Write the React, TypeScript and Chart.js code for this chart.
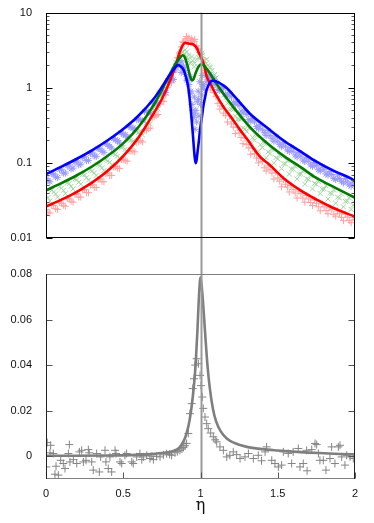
import React, { useEffect, useRef } from 'react';
import { Chart, registerables } from 'chart.js';

Chart.register(...registerables);

// ---------- axes / ticks ----------
const etaTicks = [0, 0.5, 1, 1.5, 2];
const etaTickLabels = ['0', '0.5', '1', '1.5', '2'];
const logTicks = [0.01, 0.1, 1, 10];
const logTickLabels = ['0.01', '0.1', '1', '10'];
const logMinorTicks = [
  0.02, 0.03, 0.04, 0.05, 0.06, 0.07, 0.08, 0.09,
  0.2, 0.3, 0.4, 0.5, 0.6, 0.7, 0.8, 0.9,
  2, 3, 4, 5, 6, 7, 8, 9,
];
const linTicks = [0, 0.02, 0.04, 0.06, 0.08];
const linTickLabels = ['0', '0.02', '0.04', '0.06', '0.08'];
const resonanceEta = 1;
const xTitle = 'η';

// ---------- top panel: fitted curves ----------
const blueLineEta = [0, 0.1, 0.2, 0.3, 0.4, 0.5, 0.6, 0.7, 0.75, 0.8, 0.83, 0.855, 0.875, 0.89, 0.905, 0.92, 0.932, 0.943, 0.952, 0.96, 0.968, 0.975, 0.98, 0.99, 0.997, 1.01, 1.018, 1.03, 1.04, 1.055, 1.075, 1.1, 1.14, 1.17, 1.21, 1.26, 1.32, 1.43, 1.54, 1.65, 1.75, 1.87, 1.97, 2];
const blueLineVal = [0.071, 0.089, 0.1135, 0.148, 0.2, 0.282, 0.427, 0.724, 1.02, 1.48, 1.8, 2.0, 1.9, 1.74, 1.4, 1.04, 0.65, 0.37, 0.22, 0.135, 0.099, 0.11, 0.135, 0.2, 0.275, 0.42, 0.56, 0.75, 0.94, 1.12, 1.24, 1.22, 1.1, 0.99, 0.81, 0.62, 0.45, 0.295, 0.197, 0.141, 0.104, 0.077, 0.0625, 0.057];

const greenLineEta = [0, 0.1, 0.2, 0.3, 0.4, 0.5, 0.6, 0.7, 0.75, 0.8, 0.83, 0.86, 0.885, 0.9, 0.915, 0.93, 0.945, 0.955, 0.97, 0.99, 1.008, 1.03, 1.06, 1.09, 1.13, 1.21, 1.32, 1.43, 1.54, 1.65, 1.75, 1.87, 2];
const greenLineVal = [0.043, 0.0537, 0.0684, 0.0902, 0.1245, 0.182, 0.302, 0.603, 0.933, 1.48, 1.95, 2.4, 2.7, 2.5, 2.0, 1.5, 1.25, 1.3, 1.6, 1.95, 2.05, 1.9, 1.57, 1.25, 0.94, 0.56, 0.3, 0.184, 0.123, 0.087, 0.063, 0.0468, 0.0343];

const redLineEta = [0, 0.1, 0.2, 0.3, 0.4, 0.5, 0.6, 0.7, 0.75, 0.8, 0.84, 0.87, 0.9, 0.93, 0.955, 0.975, 0.99, 1.005, 1.02, 1.04, 1.07, 1.1, 1.148, 1.2, 1.256, 1.3, 1.385, 1.45, 1.536, 1.65, 1.752, 1.85, 2];
const redLineVal = [0.0263, 0.0324, 0.0412, 0.055, 0.0785, 0.123, 0.219, 0.468, 0.708, 1.2, 2.0, 3.16, 3.95, 3.85, 3.75, 3.4, 2.9, 2.5, 2.1, 1.42, 1.07, 0.81, 0.56, 0.4, 0.275, 0.209, 0.121, 0.093, 0.063, 0.0427, 0.0324, 0.0257, 0.0192];

// ---------- top panel: measured points (two interleaved rows) ----------
const scatterEta = [0, 0.025, 0.05, 0.075, 0.1, 0.125, 0.15, 0.175, 0.2, 0.225, 0.25, 0.275, 0.3, 0.325, 0.35, 0.375, 0.4, 0.425, 0.45, 0.475, 0.5, 0.525, 0.55, 0.575, 0.6, 0.625, 0.65, 0.675, 0.7, 0.725, 0.75, 0.775, 0.8, 0.825, 0.85, 0.875, 0.9, 0.925, 0.95, 0.975, 1, 1.025, 1.05, 1.075, 1.1, 1.125, 1.15, 1.175, 1.2, 1.225, 1.25, 1.275, 1.3, 1.325, 1.35, 1.375, 1.4, 1.425, 1.45, 1.475, 1.5, 1.525, 1.55, 1.575, 1.6, 1.625, 1.65, 1.675, 1.7, 1.725, 1.75, 1.775, 1.8, 1.825, 1.85, 1.875, 1.9, 1.925, 1.95, 1.975, 2];
const blueScatterVal = [0.062, 0.056, 0.071, 0.064, 0.081, 0.073, 0.094, 0.085, 0.106, 0.096, 0.121, 0.108, 0.136, 0.122, 0.154, 0.138, 0.174, 0.157, 0.201, 0.184, 0.238, 0.222, 0.295, 0.281, 0.383, 0.363, 0.484, 0.451, 0.616, 0.614, 0.862, 0.866, 1.26, 1.29, 2.1, 1.6, 1.7, 1.1, 0.5, 0.35, 0.6, 0.95, 1.3, 1.15, 1.15, 0.92, 0.98, 0.78, 0.76, 0.6, 0.58, 0.46, 0.44, 0.36, 0.35, 0.285, 0.28, 0.232, 0.232, 0.194, 0.195, 0.164, 0.167, 0.142, 0.143, 0.12, 0.123, 0.104, 0.106, 0.09, 0.092, 0.078, 0.081, 0.069, 0.07, 0.06, 0.062, 0.054, 0.056, 0.049, 0.05];
const greenScatterVal = [0.037, 0.031, 0.041, 0.035, 0.046, 0.039, 0.053, 0.045, 0.06, 0.052, 0.069, 0.059, 0.078, 0.068, 0.092, 0.079, 0.107, 0.094, 0.129, 0.116, 0.162, 0.143, 0.2, 0.18, 0.255, 0.235, 0.34, 0.33, 0.5, 0.52, 0.77, 0.85, 1.35, 1.7, 2.3, 2.9, 3.2, 2.7, 2.3, 2.4, 2.6, 2.3, 2.0, 1.7, 1.35, 1.0, 0.8, 0.62, 0.52, 0.42, 0.38, 0.29, 0.26, 0.19, 0.2, 0.143, 0.16, 0.117, 0.133, 0.099, 0.113, 0.084, 0.097, 0.071, 0.082, 0.061, 0.071, 0.052, 0.06, 0.045, 0.052, 0.039, 0.045, 0.033, 0.039, 0.029, 0.034, 0.026, 0.031, 0.024, 0.029];
const redScatterVal = [0.024, 0.0215, 0.027, 0.024, 0.029, 0.0265, 0.033, 0.03, 0.039, 0.035, 0.044, 0.04, 0.051, 0.047, 0.061, 0.056, 0.073, 0.068, 0.089, 0.084, 0.11, 0.105, 0.143, 0.14, 0.19, 0.19, 0.27, 0.29, 0.41, 0.44, 0.66, 0.8, 1.2, 1.6, 2.5, 3.5, 4.3, 4.6, 4.3, 3.6, 2.9, 2.0, 1.4, 1.0, 0.76, 0.52, 0.46, 0.35, 0.33, 0.245, 0.25, 0.18, 0.175, 0.13, 0.133, 0.1, 0.104, 0.078, 0.081, 0.061, 0.063, 0.048, 0.052, 0.041, 0.044, 0.034, 0.039, 0.03, 0.033, 0.027, 0.029, 0.023, 0.026, 0.021, 0.024, 0.0195, 0.021, 0.017, 0.019, 0.016, 0.0177];

const scatterEta2 = [0.0125, 0.0375, 0.0625, 0.0875, 0.1125, 0.1375, 0.1625, 0.1875, 0.2125, 0.2375, 0.2625, 0.2875, 0.3125, 0.3375, 0.3625, 0.3875, 0.4125, 0.4375, 0.4625, 0.4875, 0.5125, 0.5375, 0.5625, 0.5875, 0.6125, 0.6375, 0.6625, 0.6875, 0.7125, 0.7375, 0.7625, 0.7875, 0.8125, 0.8375, 0.8625, 0.8875, 0.9125, 0.9375, 0.9625, 0.9875, 1.0125, 1.0375, 1.0625, 1.0875, 1.1125, 1.1375, 1.1625, 1.1875, 1.2125, 1.2375, 1.2625, 1.2875, 1.3125, 1.3375, 1.3625, 1.3875, 1.4125, 1.4375, 1.4625, 1.4875, 1.5125, 1.5375, 1.5625, 1.5875, 1.6125, 1.6375, 1.6625, 1.6875, 1.7125, 1.7375, 1.7625, 1.7875, 1.8125, 1.8375, 1.8625, 1.8875, 1.9125, 1.9375, 1.9625, 1.9875];
const blueScatterVal2 = [0.058, 0.072, 0.065, 0.081, 0.073, 0.091, 0.083, 0.102, 0.094, 0.117, 0.107, 0.133, 0.123, 0.154, 0.143, 0.179, 0.166, 0.211, 0.198, 0.251, 0.237, 0.307, 0.292, 0.377, 0.366, 0.485, 0.475, 0.63, 0.63, 0.87, 0.9, 1.25, 1.28, 1.73, 2.2, 1.85, 1.25, 0.9, 0.45, 0.7, 1.05, 1.2, 1.35, 1.1, 0.95, 1.02, 0.82, 0.85, 0.64, 0.65, 0.49, 0.5, 0.376, 0.39, 0.304, 0.32, 0.252, 0.268, 0.21, 0.223, 0.176, 0.186, 0.148, 0.16, 0.127, 0.137, 0.109, 0.118, 0.094, 0.101, 0.081, 0.088, 0.071, 0.077, 0.062, 0.069, 0.057, 0.062, 0.051, 0.055];
const greenScatterVal2 = [0.0345, 0.043, 0.0385, 0.048, 0.043, 0.054, 0.0488, 0.061, 0.0552, 0.07, 0.0634, 0.08, 0.0733, 0.094, 0.086, 0.11, 0.102, 0.132, 0.123, 0.16, 0.151, 0.203, 0.195, 0.261, 0.257, 0.36, 0.363, 0.51, 0.525, 0.77, 0.82, 1.21, 1.3, 2.2, 2.7, 3.0, 2.6, 2.2, 2.1, 2.5, 2.7, 2.1, 1.85, 1.45, 1.15, 0.9, 0.73, 0.51, 0.51, 0.376, 0.385, 0.283, 0.29, 0.218, 0.229, 0.174, 0.183, 0.14, 0.151, 0.117, 0.125, 0.097, 0.106, 0.083, 0.09, 0.0707, 0.077, 0.0612, 0.0674, 0.0533, 0.0563, 0.0446, 0.0494, 0.0394, 0.0435, 0.0349, 0.0386, 0.0308, 0.0342, 0.0272];
const redScatterVal2 = [0.0221, 0.027, 0.0245, 0.03, 0.0273, 0.0336, 0.0309, 0.038, 0.035, 0.0436, 0.0404, 0.0503, 0.0471, 0.0597, 0.0563, 0.0714, 0.068, 0.0883, 0.0853, 0.1106, 0.108, 0.145, 0.144, 0.194, 0.197, 0.276, 0.288, 0.404, 0.425, 0.606, 0.66, 1.0, 1.16, 1.84, 2.9, 4.1, 4.5, 4.2, 4.4, 3.2, 2.5, 1.6, 0.94, 0.86, 0.62, 0.57, 0.43, 0.42, 0.3, 0.295, 0.217, 0.214, 0.158, 0.157, 0.116, 0.114, 0.086, 0.091, 0.073, 0.075, 0.057, 0.06, 0.0476, 0.05, 0.0396, 0.042, 0.034, 0.0368, 0.0297, 0.0321, 0.026, 0.0284, 0.0231, 0.0252, 0.0207, 0.0229, 0.0188, 0.0207, 0.017, 0.0187];

const blueScatterPeak = [[0.86, 2.3], [0.87, 1.95], [0.88, 2.2], [0.89, 1.9], [0.905, 1.5], [0.915, 1.3], [0.93, 1.4], [0.935, 0.85], [0.945, 0.6], [0.955, 0.4], [0.96, 0.75], [0.965, 0.28], [0.97, 0.5], [0.98, 0.65], [0.985, 0.9], [0.99, 0.42], [0.995, 1.2], [1.005, 0.8], [1.01, 1.45], [1.02, 1.1], [1.035, 1.45], [1.06, 1.5], [1.09, 1.3]];
const greenScatterPeak = [[0.84, 1.9], [0.86, 2.6], [0.88, 3.3], [0.895, 2.8], [0.91, 3.0], [0.92, 2.4], [0.935, 2.1], [0.945, 2.6], [0.96, 1.9], [0.985, 2.8], [1.01, 2.9], [1.04, 2.4], [1.06, 1.9], [1.09, 1.5]];
const redScatterPeak = [[0.87, 3.0], [0.89, 4.0], [0.91, 4.8], [0.92, 3.9], [0.94, 4.5], [0.96, 4.1], [0.985, 3.3], [1.01, 2.4], [1.035, 1.7]];

// ---------- bottom panel ----------
const grayLineEta = [0, 0.2, 0.4, 0.55, 0.65, 0.75, 0.82, 0.86, 0.89, 0.91, 0.93, 0.95, 0.965, 0.98, 0.99, 1, 1.01, 1.02, 1.03, 1.045, 1.06, 1.08, 1.1, 1.13, 1.17, 1.22, 1.3, 1.4, 1.5, 1.6, 1.7, 1.8, 1.9, 2];
const grayLineVal = [0.0002, 0.0002, 0.0003, 0.0005, 0.0008, 0.0014, 0.0022, 0.0035, 0.0065, 0.01, 0.016, 0.026, 0.037, 0.055, 0.07, 0.0785, 0.073, 0.064, 0.054, 0.04, 0.03, 0.021, 0.0155, 0.011, 0.0078, 0.0058, 0.0041, 0.0031, 0.0025, 0.002, 0.0016, 0.0013, 0.001, 0.0008];
const grayScatter = [
  [0.002, -0.0047], [0.008, 0.006], [0.03, 0.0048], [0.026, 0.0015], [0.047, 0.0012], [0.058, -0.0079], [0.065, -0.0044], [0.08, -0.0083],
  [0.095, -0.0018], [0.112, -0.0032], [0.123, -0.0054], [0.145, 0.0012], [0.151, 0.0051], [0.155, -0.0025], [0.177, -0.0015], [0.199, -0.0032],
  [0.216, 0.0019], [0.231, 0.0026], [0.242, -0.0025], [0.259, -0.0018], [0.274, 0.0029], [0.28, 0.0015], [0.296, -0.0025], [0.306, -0.0061],
  [0.328, 0.0012], [0.345, -0.0069], [0.354, -0.0003], [0.382, 0.0026], [0.388, -0.0025], [0.403, -0.0054], [0.414, -0.0003], [0.425, -0.0069],
  [0.447, 0.0026], [0.453, 0.0012], [0.479, -0.0025], [0.49, -0.0032], [0.511, 0.0004], [0.522, 0.0012], [0.555, -0.0025], [0.565, -0.0032],
  [0.587, -0.0003], [0.608, 0.0012], [0.62, -0.0015], [0.63, -0.0003], [0.652, 0.0004], [0.673, -0.001], [0.685, 0.0], [0.695, -0.0015],
  [0.716, 0.0], [0.738, -0.0003], [0.76, 0.0006], [0.781, 0.0011], [0.8, 0.0008], [0.813, 0.0004], [0.835, 0.0015], [0.85, 0.002],
  [0.867, 0.0026], [0.88, 0.0032], [0.889, 0.0038], [0.9, 0.0046], [0.91, 0.0056], [0.921, 0.01], [0.932, 0.0187], [0.943, 0.0231],
  [0.95, 0.0297], [0.958, 0.034], [0.966, 0.04], [0.975, 0.0428], [0.986, 0.0406], [0.997, 0.0355], [1.003, 0.031], [1.012, 0.026],
  [1.018, 0.021], [1.029, 0.0172], [1.04, 0.0143], [1.05, 0.0121], [1.066, 0.0102], [1.083, 0.0085], [1.095, 0.0072], [1.105, 0.0063],
  [1.126, 0.0041], [1.148, 0.0026], [1.17, -0.0003], [1.19, 0.0004], [1.212, 0.0019], [1.234, 0.0007], [1.256, -0.001], [1.288, -0.0003],
  [1.31, 0.0012], [1.342, -0.001], [1.374, 0.0004], [1.395, -0.002], [1.418, 0.0019], [1.428, 0.0041], [1.461, -0.0018], [1.482, -0.0032],
  [1.504, -0.0047], [1.525, -0.0039], [1.536, 0.0019], [1.568, 0.0012], [1.59, -0.0032], [1.6, 0.0019], [1.633, 0.0034], [1.644, -0.0047],
  [1.665, -0.0032], [1.687, 0.0026], [1.69, -0.0064], [1.72, 0.0029], [1.741, 0.0056], [1.752, 0.0051], [1.763, 0.0012], [1.773, -0.0018],
  [1.795, -0.0018], [1.812, -0.0061], [1.838, -0.001], [1.849, 0.0041], [1.87, -0.0032], [1.892, 0.0041], [1.903, 0.0048], [1.914, -0.0003],
  [1.935, -0.0039], [1.946, 0.0004], [1.968, -0.0003], [1.989, -0.001],
];

// ---------- helpers ----------
const zip = (xs: number[], ys: number[]) => xs.slice(0, Math.min(xs.length, ys.length)).map((x, i) => ({ x, y: ys[i] }));
const pairs = (ps: number[][]) => ps.map(([x, y]) => ({ x, y }));

const FONT = "'Liberation Sans', Arial, Helvetica, sans-serif";

function lineDs(points: any[], color: string, width = 2.5) {
  return {
    data: points, borderColor: color, borderWidth: width, pointRadius: 0, fill: false,
    cubicInterpolationMode: 'monotone', showLine: true,
  };
}
function markDs(points: any[], color: string, style: string, radius = 3.5) {
  return {
    data: points, showLine: false, borderColor: color, backgroundColor: 'transparent',
    pointStyle: style, pointRadius: radius, pointBorderColor: color, pointBorderWidth: 1,
    pointBackgroundColor: 'transparent',
  };
}

type PanelCfg = {
  frame: { top: string; right: string; bottom: string; left: string };
  yMajor: number[];
  yMinor: number[];
  xMajor: number[];
  tickColor: string;
  minorColor: string;
  lineFromCanvasTop: boolean;
};

function panelPlugin(cfg: PanelCfg) {
  return {
    id: 'panel',
    afterDatasetsDraw(chart: any) {
      const { ctx, chartArea: a, scales } = chart;
      const x = Math.round(scales.x.getPixelForValue(resonanceEta)) + 0.5;
      ctx.save();
      ctx.strokeStyle = '#9a9a9a';
      ctx.lineWidth = 2;
      ctx.beginPath();
      if (cfg.lineFromCanvasTop) {
        ctx.moveTo(x, 0);
        ctx.lineTo(x, a.bottom);
      } else {
        ctx.moveTo(x, a.top);
        ctx.lineTo(x, chart.height);
      }
      ctx.stroke();
      ctx.restore();
    },
    afterDraw(chart: any) {
      const { ctx, chartArea: a, scales } = chart;
      const L = Math.round(a.left) + 0.5, R = Math.round(a.right) - 0.5;
      const T = Math.round(a.top) + 0.5, B = Math.round(a.bottom) - 0.5;
      ctx.save();
      ctx.lineWidth = 1;
      const seg = (c: string, x1: number, y1: number, x2: number, y2: number) => {
        ctx.strokeStyle = c; ctx.beginPath(); ctx.moveTo(x1, y1); ctx.lineTo(x2, y2); ctx.stroke();
      };
      const yt = (vals: number[], len: number, c: string) => {
        for (const v of vals) {
          const y = Math.round(scales.y.getPixelForValue(v)) + 0.5;
          seg(c, L, y, L + len, y);
          seg(c, R, y, R - len, y);
        }
      };
      yt(cfg.yMinor, 3, cfg.minorColor);
      yt(cfg.yMajor, 6, cfg.tickColor);
      for (const v of cfg.xMajor) {
        const x = Math.round(scales.x.getPixelForValue(v)) + 0.5;
        seg(cfg.tickColor, x, B, x, B - 6);
      }
      seg(cfg.frame.top, L - 0.5, T, R + 0.5, T);
      seg(cfg.frame.bottom, L - 0.5, B, R + 0.5, B);
      seg(cfg.frame.left, L, T - 0.5, L, B + 0.5);
      seg(cfg.frame.right, R, T - 0.5, R, B + 0.5);
      ctx.restore();
    },
  };
}

const BLUE_PT = '#9a9aff';
const GREEN_PT = '#a2d6a2';
const RED_PT = '#ffa0a0';

function topConfig(): any {
  return {
    type: 'line',
    data: {
      datasets: [
        lineDs(zip(blueLineEta, blueLineVal), '#0000ff', 2.6),
        lineDs(zip(greenLineEta, greenLineVal), '#007a00', 2.6),
        lineDs(zip(redLineEta, redLineVal), '#ff0000', 2.6),
        markDs(zip(scatterEta, blueScatterVal), BLUE_PT, 'star'),
        markDs(zip(scatterEta2, blueScatterVal2), BLUE_PT, 'star'),
        markDs(pairs(blueScatterPeak), BLUE_PT, 'star'),
        markDs(zip(scatterEta, greenScatterVal), GREEN_PT, 'crossRot'),
        markDs(zip(scatterEta2, greenScatterVal2), GREEN_PT, 'crossRot'),
        markDs(pairs(greenScatterPeak), GREEN_PT, 'crossRot'),
        markDs(zip(scatterEta, redScatterVal), RED_PT, 'cross'),
        markDs(zip(scatterEta2, redScatterVal2), RED_PT, 'cross'),
        markDs(pairs(redScatterPeak), RED_PT, 'cross'),
      ],
    },
    options: {
      animation: false,
      responsive: false,
      maintainAspectRatio: false,
      events: [],
      layout: { padding: { top: 12, right: 19, bottom: 18, left: 0 } },
      plugins: { legend: { display: false }, tooltip: { enabled: false } },
      scales: {
        x: { type: 'linear', min: 0, max: 2, display: false },
        y: {
          type: 'logarithmic', min: 0.01, max: 10,
          afterFit: (s: any) => { s.width = 46; },
          afterBuildTicks: (s: any) => { s.ticks = logTicks.map((v) => ({ value: v })); },
          grid: { display: false },
          border: { display: false },
          ticks: {
            autoSkip: false, padding: 6, color: '#111', font: { family: FONT, size: 11 },
            callback: (v: number) => { const i = logTicks.indexOf(v); return i >= 0 ? logTickLabels[i] : ''; },
          },
        },
      },
    },
    plugins: [panelPlugin({
      frame: { top: '#000', right: '#000', bottom: '#000', left: '#000' },
      yMajor: logTicks, yMinor: logMinorTicks, xMajor: [],
      tickColor: '#000', minorColor: '#555', lineFromCanvasTop: false,
    })],
  };
}

function bottomConfig(): any {
  return {
    type: 'line',
    data: {
      datasets: [
        lineDs(zip(grayLineEta, grayLineVal), '#7f7f7f', 2.6),
        markDs(pairs(grayScatter), '#858585', 'cross', 4),
      ],
    },
    options: {
      animation: false,
      responsive: false,
      maintainAspectRatio: false,
      events: [],
      layout: { padding: { top: 18, right: 19, bottom: 0, left: 0 } },
      plugins: { legend: { display: false }, tooltip: { enabled: false } },
      scales: {
        x: {
          type: 'linear', min: 0, max: 2,
          afterFit: (s: any) => { s.height = 44; },
          afterBuildTicks: (s: any) => { s.ticks = etaTicks.map((v) => ({ value: v })); },
          grid: { display: false },
          border: { display: false },
          ticks: {
            autoSkip: false, maxRotation: 0, padding: 0, color: '#111', font: { family: FONT, size: 11 },
            callback: (v: number) => { const i = etaTicks.indexOf(v); return i >= 0 ? etaTickLabels[i] : ''; },
          },
          title: {
            display: true, text: xTitle, color: '#111',
            font: { family: "'DejaVu Serif', 'Liberation Serif', serif", size: 16 },
            padding: { top: 0, bottom: 8 },
          },
        },
        y: {
          type: 'linear', min: -0.01, max: 0.08,
          afterFit: (s: any) => { s.width = 46; },
          afterBuildTicks: (s: any) => { s.ticks = linTicks.map((v) => ({ value: v })); },
          grid: { display: false },
          border: { display: false },
          ticks: {
            autoSkip: false, padding: 6, color: '#111', font: { family: FONT, size: 11 },
            callback: (v: number) => { const i = linTicks.indexOf(v); return i >= 0 ? linTickLabels[i] : ''; },
          },
        },
      },
    },
    plugins: [panelPlugin({
      frame: { top: '#808080', right: '#222', bottom: '#808080', left: '#222' },
      yMajor: linTicks, yMinor: [], xMajor: etaTicks,
      tickColor: '#555', minorColor: '#555', lineFromCanvasTop: true,
    })],
  };
}

export default function App() {
  const topRef = useRef<HTMLCanvasElement>(null);
  const botRef = useRef<HTMLCanvasElement>(null);
  useEffect(() => {
    const c1 = new Chart(topRef.current as HTMLCanvasElement, topConfig());
    const c2 = new Chart(botRef.current as HTMLCanvasElement, bottomConfig());
    return () => { c1.destroy(); c2.destroy(); };
  }, []);
  return (
    <div style={{ position: 'absolute', left: 0, top: 0, width: 374, height: 523, background: '#fff' }}>
      <canvas ref={topRef} width={374} height={256}
        style={{ position: 'absolute', left: 0, top: 0, width: 374, height: 256, display: 'block' }} />
      <canvas ref={botRef} width={374} height={267}
        style={{ position: 'absolute', left: 0, top: 256, width: 374, height: 267, display: 'block' }} />
    </div>
  );
}
